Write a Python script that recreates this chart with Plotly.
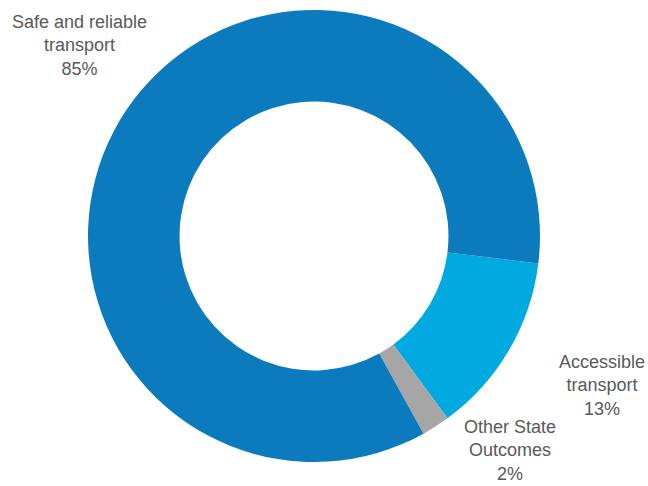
import plotly.graph_objects as go

labels = ["Accessible transport", "Other State Outcomes", "Safe and reliable transport"]
label_lines = ["Accessible<br>transport", "Other State<br>Outcomes", "Safe and reliable<br>transport"]
values = [13, 2, 85]
colors = ["#00A9E0", "#A6A6A6", "#0B7BBD"]
label_pos = [(0.9586, 0.1696), (0.812, 0.026), (0.1258, 0.9207)]

fig = go.Figure(go.Pie(
    labels=labels, values=values, hole=0.595, sort=False,
    direction="clockwise", rotation=97,
    marker=dict(colors=colors, line=dict(width=0)),
    textinfo="none", hoverinfo="label+percent", showlegend=False,
))

for txt, v, (x, y) in zip(label_lines, values, label_pos):
    fig.add_annotation(text=f"{txt}<br>{v}%", x=x, y=y, xref="paper", yref="paper",
                       showarrow=False, xanchor="center", yanchor="middle",
                       font=dict(family="Liberation Sans, Arial", size=18, color="#595959"))

fig.update_layout(width=648, height=486, margin=dict(l=0, r=20, t=10, b=24),
                  paper_bgcolor="white", plot_bgcolor="white")
fig.write_html("out.html")
